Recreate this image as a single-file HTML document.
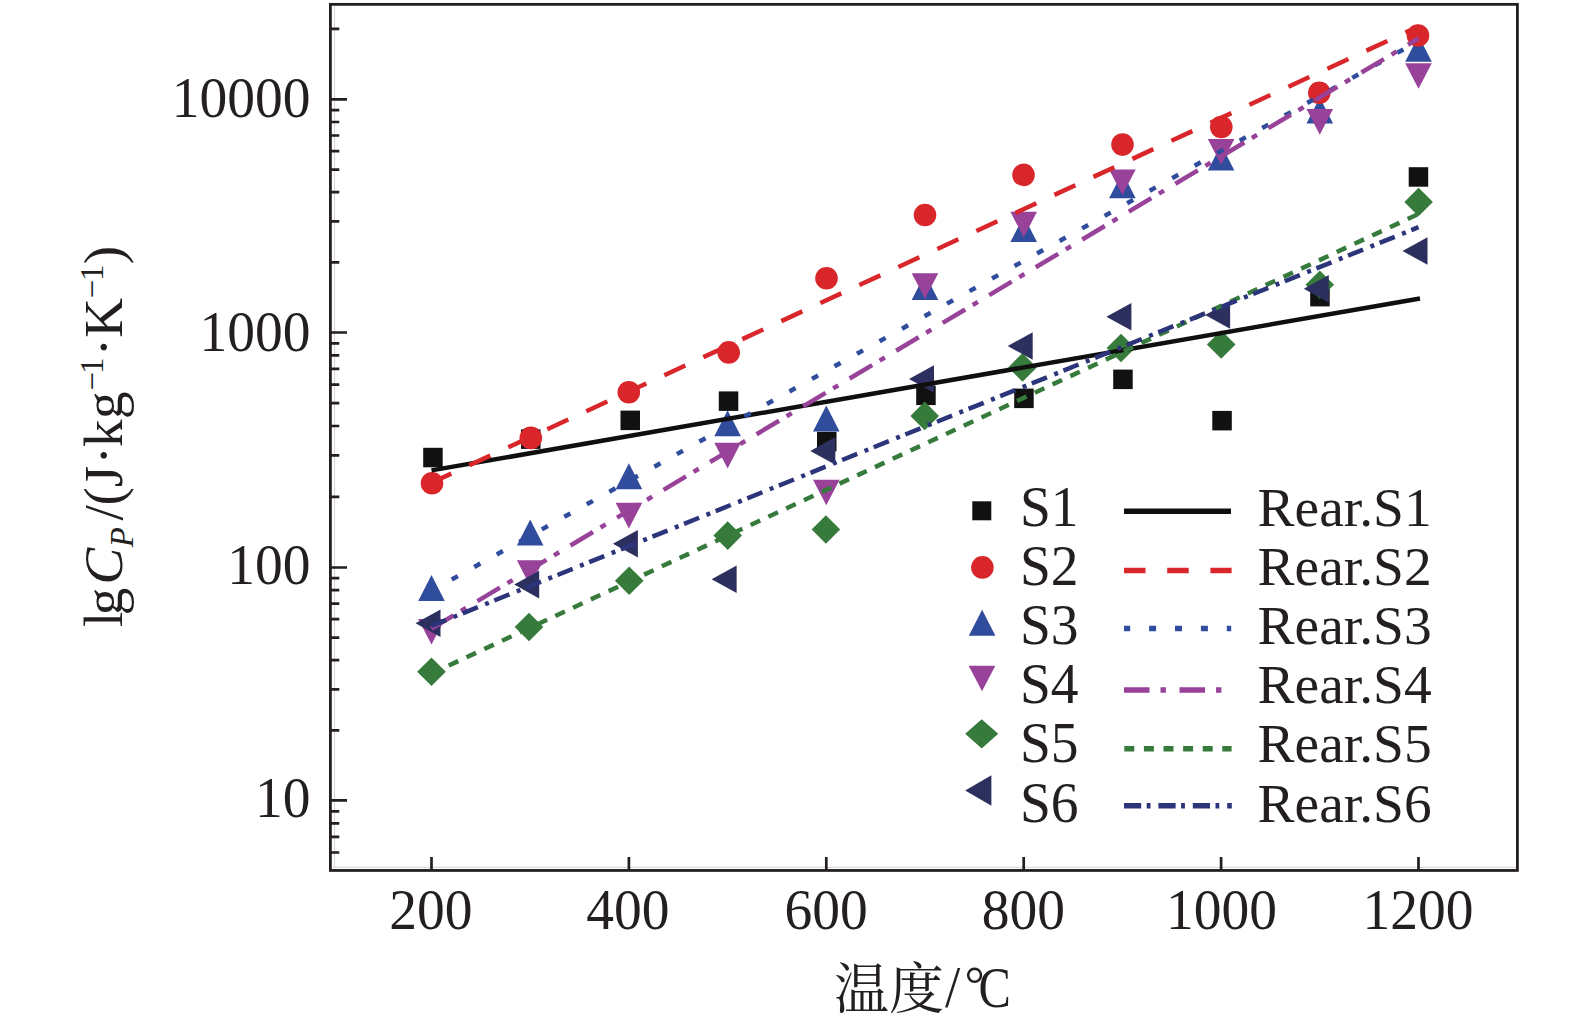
<!DOCTYPE html>
<html><head><meta charset="utf-8"><title>lgCp vs temperature</title>
<style>html,body{margin:0;padding:0;background:#fff;overflow:hidden}svg{display:block}</style>
</head><body>
<svg width="1575" height="1030" viewBox="0 0 1575 1030">
<rect width="1575" height="1030" fill="#fff"/>
<line x1="334.5" y1="6" x2="334.5" y2="868" stroke="#d6d6d6" stroke-width="1.1"/>
<line x1="333" y1="867.4" x2="1516" y2="867.4" stroke="#dcdcdc" stroke-width="1.1"/>
<path d="M330.4 800.4H347 M330.4 567.5H347 M330.4 332.5H347 M330.4 99.4H347 M330.4 28.9H339.3 M330.4 730.3H339.3 M330.4 689.3H339.3 M330.4 660.2H339.3 M330.4 637.6H339.3 M330.4 619.2H339.3 M330.4 603.6H339.3 M330.4 590.1H339.3 M330.4 578.2H339.3 M330.4 496.8H339.3 M330.4 455.4H339.3 M330.4 426.0H339.3 M330.4 403.2H339.3 M330.4 384.6H339.3 M330.4 368.9H339.3 M330.4 355.3H339.3 M330.4 343.3H339.3 M330.4 262.3H339.3 M330.4 221.3H339.3 M330.4 192.2H339.3 M330.4 169.6H339.3 M330.4 151.1H339.3 M330.4 135.5H339.3 M330.4 122.0H339.3 M330.4 110.1H339.3 M330.4 852.5H339.3 M330.4 836.9H339.3 M330.4 823.3H339.3 M330.4 811.3H339.3 M431.5 870.45V857 M628.9 870.45V857 M826.3 870.45V857 M1023.7 870.45V857 M1221.1 870.45V857 M1418.5 870.45V857" stroke="#231f20" stroke-width="2.7" fill="none"/>
<rect x="330.4" y="4.35" width="1187.00" height="866.10" fill="none" stroke="#231f20" stroke-width="2.8"/>
<text transform="translate(310.4 117.2) scale(1 1.03)" text-anchor="end" font-family="Liberation Serif, serif" font-size="55.5" fill="#231f20">10000</text>
<text transform="translate(310.4 351.2) scale(1 1.03)" text-anchor="end" font-family="Liberation Serif, serif" font-size="55.5" fill="#231f20">1000</text>
<text transform="translate(310.4 584.0) scale(1 1.03)" text-anchor="end" font-family="Liberation Serif, serif" font-size="55.5" fill="#231f20">100</text>
<text transform="translate(310.4 817.1) scale(1 1.03)" text-anchor="end" font-family="Liberation Serif, serif" font-size="55.5" fill="#231f20">10</text>
<text transform="translate(430.8 929.4) scale(1 1.03)" text-anchor="middle" font-family="Liberation Serif, serif" font-size="55.5" fill="#231f20">200</text>
<text transform="translate(627.8 929.4) scale(1 1.03)" text-anchor="middle" font-family="Liberation Serif, serif" font-size="55.5" fill="#231f20">400</text>
<text transform="translate(826.1 929.4) scale(1 1.03)" text-anchor="middle" font-family="Liberation Serif, serif" font-size="55.5" fill="#231f20">600</text>
<text transform="translate(1023.3 929.4) scale(1 1.03)" text-anchor="middle" font-family="Liberation Serif, serif" font-size="55.5" fill="#231f20">800</text>
<text transform="translate(1221.5 929.4) scale(1 1.03)" text-anchor="middle" font-family="Liberation Serif, serif" font-size="55.5" fill="#231f20">1000</text>
<text transform="translate(1418 929.4) scale(1 1.03)" text-anchor="middle" font-family="Liberation Serif, serif" font-size="55.5" fill="#231f20">1200</text>
<text transform="translate(834 1008) scale(1 1.0)" font-family="Liberation Serif, serif" font-size="55" fill="#231f20"><tspan font-family="Liberation Serif, Noto Serif CJK SC, serif">温度</tspan></text>
<text transform="translate(945 1007.4) scale(1 1.068)" font-family="Liberation Serif, serif" font-size="55" fill="#231f20">/</text>
<text transform="translate(964.5 1000.5)" font-family="Liberation Serif, serif" font-size="50.5" fill="#231f20">°</text>
<text transform="translate(978.5 1006.6) scale(1 1.173)" font-family="Liberation Serif, serif" font-size="48.5" fill="#231f20">C</text>
<text transform="translate(122 627) rotate(-90)" font-family="Liberation Serif, serif" fill="#231f20"><tspan x="0" y="0" font-size="55">l</tspan><tspan x="11.8" y="0" font-size="55">g</tspan><tspan x="42.4" y="0" font-size="55" font-style="italic">C</tspan><tspan x="79.7" y="11.2" font-size="33" font-style="italic">P</tspan><tspan x="106.6" y="0" font-size="55">/</tspan><tspan x="121.6" y="0" font-size="55">(</tspan><tspan x="139.8" y="0" font-size="55">J</tspan><tspan x="162.4" y="0" font-size="55">·</tspan><tspan x="180" y="0" font-size="55">k</tspan><tspan x="207.9" y="0" font-size="55">g</tspan><tspan x="236.4" y="-19.1" font-size="33">−</tspan><tspan x="253" y="-19.1" font-size="33">1</tspan><tspan x="270.7" y="0" font-size="55">·</tspan><tspan x="289.2" y="0" font-size="55">K</tspan><tspan x="328.7" y="-19.1" font-size="33">−</tspan><tspan x="346.1" y="-19.1" font-size="33">1</tspan><tspan x="362.7" y="0" font-size="55">)</tspan></text>
<g><rect x="423.2" y="447.8" width="19.5" height="19.5" fill="#111111"/><rect x="521.0" y="429.4" width="19.5" height="19.5" fill="#111111"/><rect x="620.5" y="410.6" width="19.5" height="19.5" fill="#111111"/><rect x="718.8" y="391.4" width="19.5" height="19.5" fill="#111111"/><rect x="817.0" y="431.8" width="19.5" height="19.5" fill="#111111"/><rect x="916.2" y="385.6" width="19.5" height="19.5" fill="#111111"/><rect x="1014.2" y="388.6" width="19.5" height="19.5" fill="#111111"/><rect x="1113.2" y="369.6" width="19.5" height="19.5" fill="#111111"/><rect x="1212.3" y="410.9" width="19.5" height="19.5" fill="#111111"/><rect x="1310.2" y="286.9" width="19.5" height="19.5" fill="#111111"/><rect x="1408.7" y="167.2" width="19.5" height="19.5" fill="#111111"/><path d="M431.5 575.0L444.8 601.0L418.2 601.0Z" fill="#304c9c"/><path d="M530.2 519.5L543.5 545.5L516.9 545.5Z" fill="#304c9c"/><path d="M628.9 463.3L642.2 489.3L615.6 489.3Z" fill="#304c9c"/><path d="M727.6 410.3L740.9 436.3L714.3 436.3Z" fill="#304c9c"/><path d="M826.3 405.5L839.6 431.5L813.0 431.5Z" fill="#304c9c"/><path d="M925.0 274.1L938.3 300.1L911.7 300.1Z" fill="#304c9c"/><path d="M1023.7 216.1L1037.0 242.1L1010.4 242.1Z" fill="#304c9c"/><path d="M1122.4 172.2L1135.7 198.2L1109.1 198.2Z" fill="#304c9c"/><path d="M1221.1 144.5L1234.4 170.5L1207.8 170.5Z" fill="#304c9c"/><path d="M1319.8 97.4L1333.1 123.4L1306.5 123.4Z" fill="#304c9c"/><path d="M1418.5 35.7L1431.8 61.7L1405.2 61.7Z" fill="#304c9c"/><circle cx="432.0" cy="483.2" r="11.3" fill="#d9262b"/><circle cx="530.8" cy="437.9" r="11.3" fill="#d9262b"/><circle cx="628.8" cy="392.2" r="11.3" fill="#d9262b"/><circle cx="728.7" cy="352.4" r="11.3" fill="#d9262b"/><circle cx="826.5" cy="278.3" r="11.3" fill="#d9262b"/><circle cx="925.0" cy="215.0" r="11.3" fill="#d9262b"/><circle cx="1023.5" cy="174.9" r="11.3" fill="#d9262b"/><circle cx="1122.5" cy="144.6" r="11.3" fill="#d9262b"/><circle cx="1221.3" cy="127.0" r="11.3" fill="#d9262b"/><circle cx="1319.3" cy="92.7" r="11.3" fill="#d9262b"/><circle cx="1418.0" cy="35.5" r="11.3" fill="#d9262b"/><path d="M418.2 618.9L444.8 618.9L431.5 644.5Z" fill="#98429a"/><path d="M516.9 560.3L543.5 560.3L530.2 585.9Z" fill="#98429a"/><path d="M615.6 502.8L642.2 502.8L628.9 528.4Z" fill="#98429a"/><path d="M714.3 442.8L740.9 442.8L727.6 468.4Z" fill="#98429a"/><path d="M813.0 479.7L839.6 479.7L826.3 505.3Z" fill="#98429a"/><path d="M911.7 273.2L938.3 273.2L925.0 298.8Z" fill="#98429a"/><path d="M1010.4 211.8L1037.0 211.8L1023.7 237.4Z" fill="#98429a"/><path d="M1109.1 169.5L1135.7 169.5L1122.4 195.1Z" fill="#98429a"/><path d="M1207.8 139.1L1234.4 139.1L1221.1 164.7Z" fill="#98429a"/><path d="M1306.5 109.1L1333.1 109.1L1319.8 134.7Z" fill="#98429a"/><path d="M1405.2 63.2L1431.8 63.2L1418.5 88.8Z" fill="#98429a"/><path d="M431.5 657.4L445.8 671.7L431.5 686.0L417.2 671.7Z" fill="#377b3c"/><path d="M529.0 612.7L543.3 627.0L529.0 641.3L514.7 627.0Z" fill="#377b3c"/><path d="M629.2 566.4L643.5 580.7L629.2 595.0L614.9 580.7Z" fill="#377b3c"/><path d="M727.7 521.3L742.0 535.6L727.7 549.9L713.4 535.6Z" fill="#377b3c"/><path d="M825.9 515.2L840.2 529.5L825.9 543.8L811.6 529.5Z" fill="#377b3c"/><path d="M924.7 401.6L939.0 415.9L924.7 430.2L910.4 415.9Z" fill="#377b3c"/><path d="M1022.5 353.1L1036.8 367.4L1022.5 381.7L1008.2 367.4Z" fill="#377b3c"/><path d="M1121.0 333.7L1135.3 348.0L1121.0 362.3L1106.7 348.0Z" fill="#377b3c"/><path d="M1221.2 330.2L1235.5 344.5L1221.2 358.8L1206.9 344.5Z" fill="#377b3c"/><path d="M1319.8 270.4L1334.1 284.7L1319.8 299.0L1305.5 284.7Z" fill="#377b3c"/><path d="M1418.6 187.7L1432.9 202.0L1418.6 216.3L1404.3 202.0Z" fill="#377b3c"/><path d="M415.5 623.2L440.5 609.4L440.5 637.0Z" fill="#2c305f"/><path d="M514.2 584.6L539.2 570.8L539.2 598.4Z" fill="#2c305f"/><path d="M612.9 543.7L637.9 529.9L637.9 557.5Z" fill="#2c305f"/><path d="M711.6 579.2L736.6 565.4L736.6 593.0Z" fill="#2c305f"/><path d="M810.3 450.9L835.3 437.1L835.3 464.7Z" fill="#2c305f"/><path d="M909.0 379.0L934.0 365.2L934.0 392.8Z" fill="#2c305f"/><path d="M1007.7 346.0L1032.7 332.2L1032.7 359.8Z" fill="#2c305f"/><path d="M1106.4 316.8L1131.4 303.0L1131.4 330.6Z" fill="#2c305f"/><path d="M1205.1 315.0L1230.1 301.2L1230.1 328.8Z" fill="#2c305f"/><path d="M1303.8 288.7L1328.8 274.9L1328.8 302.5Z" fill="#2c305f"/><path d="M1402.5 251.0L1427.5 237.2L1427.5 264.8Z" fill="#2c305f"/></g>
<line x1="431.5" y1="470.4" x2="1420" y2="298.5" stroke="#0f0f0f" stroke-width="4.5"/>
<line x1="431.5" y1="482.8" x2="1418.5" y2="26.6" stroke="#d9262b" stroke-width="4.5" stroke-dasharray="23.1 19.87" stroke-dashoffset="1.3"/>
<line x1="431.5" y1="590.8" x2="1418.5" y2="41.0" stroke="#304c9c" stroke-width="4.5" stroke-dasharray="7 18.77" stroke-dashoffset="2.6"/>
<line x1="431.5" y1="628.6" x2="1418.5" y2="38.4" stroke="#98429a" stroke-width="4.5" stroke-dasharray="26.2 8.8 6 13.21" stroke-dashoffset="0.68"/>
<line x1="431.5" y1="673.6" x2="1418.5" y2="214.0" stroke="#377b3c" stroke-width="4.5" stroke-dasharray="10.5 9.09" stroke-dashoffset="0.55"/>
<line x1="431.5" y1="625.9" x2="1418.5" y2="227.2" stroke="#2c347a" stroke-width="4.5" stroke-dasharray="16.3 7.9 4 5.9" stroke-dashoffset="0.45"/>
<rect x="972.3" y="501.3" width="19" height="19" fill="#111111"/>
<text transform="translate(1020 526.2) scale(1 1.015)" font-family="Liberation Serif, serif" font-size="55.5" fill="#231f20">S1</text>
<text transform="translate(1257.5 526.2) scale(1 1.005)" font-family="Liberation Serif, serif" font-size="55.5" fill="#231f20">Rear.S1</text>
<circle cx="982.4" cy="567.4" r="11.3" fill="#d9262b"/>
<text transform="translate(1020 585.2) scale(1 1.015)" font-family="Liberation Serif, serif" font-size="55.5" fill="#231f20">S2</text>
<text transform="translate(1257.5 585.2) scale(1 1.005)" font-family="Liberation Serif, serif" font-size="55.5" fill="#231f20">Rear.S2</text>
<path d="M982.1 609.7L995.4 635.7L968.8 635.7Z" fill="#304c9c"/>
<text transform="translate(1020 644.1) scale(1 1.015)" font-family="Liberation Serif, serif" font-size="55.5" fill="#231f20">S3</text>
<text transform="translate(1257.5 644.1) scale(1 1.005)" font-family="Liberation Serif, serif" font-size="55.5" fill="#231f20">Rear.S3</text>
<path d="M968.7 665.7L995.3 665.7L982.0 691.3Z" fill="#98429a"/>
<text transform="translate(1020 702.8) scale(1 1.015)" font-family="Liberation Serif, serif" font-size="55.5" fill="#231f20">S4</text>
<text transform="translate(1257.5 702.8) scale(1 1.005)" font-family="Liberation Serif, serif" font-size="55.5" fill="#231f20">Rear.S4</text>
<path d="M981.7 719.2L998.2 733.8L981.7 748.4L965.2 733.8Z" fill="#377b3c"/>
<text transform="translate(1020 762.3) scale(1 1.015)" font-family="Liberation Serif, serif" font-size="55.5" fill="#231f20">S5</text>
<text transform="translate(1257.5 762.3) scale(1 1.005)" font-family="Liberation Serif, serif" font-size="55.5" fill="#231f20">Rear.S5</text>
<path d="M965.2 790.5L991.4 775.3L991.4 805.7Z" fill="#2c305f"/>
<text transform="translate(1020 821.7) scale(1 1.015)" font-family="Liberation Serif, serif" font-size="55.5" fill="#231f20">S6</text>
<text transform="translate(1257.5 821.7) scale(1 1.005)" font-family="Liberation Serif, serif" font-size="55.5" fill="#231f20">Rear.S6</text>
<line x1="1124" y1="511.2" x2="1231" y2="511.2" stroke="#0f0f0f" stroke-width="5.5"/>
<line x1="1124" y1="570.4" x2="1231.6" y2="570.4" stroke="#d9262b" stroke-width="5.5" stroke-dasharray="21.5 21.7" stroke-dashoffset="0"/>
<line x1="1124" y1="628.6" x2="1231.2" y2="628.6" stroke="#304c9c" stroke-width="5.5" stroke-dasharray="7 18.9" stroke-dashoffset="0.8"/>
<line x1="1124" y1="689.9" x2="1222" y2="689.9" stroke="#98429a" stroke-width="5.5" stroke-dasharray="25.5 11 5.4 13.6" stroke-dashoffset="0"/>
<line x1="1124" y1="748.85" x2="1231.6" y2="748.85" stroke="#377b3c" stroke-width="5.5" stroke-dasharray="10 9.6" stroke-dashoffset="-0.3"/>
<line x1="1124" y1="805.8" x2="1231.8" y2="805.8" stroke="#2c347a" stroke-width="5.5" stroke-dasharray="17.2 5.5 3.8 7.9" stroke-dashoffset="0"/>
</svg>
</body></html>
